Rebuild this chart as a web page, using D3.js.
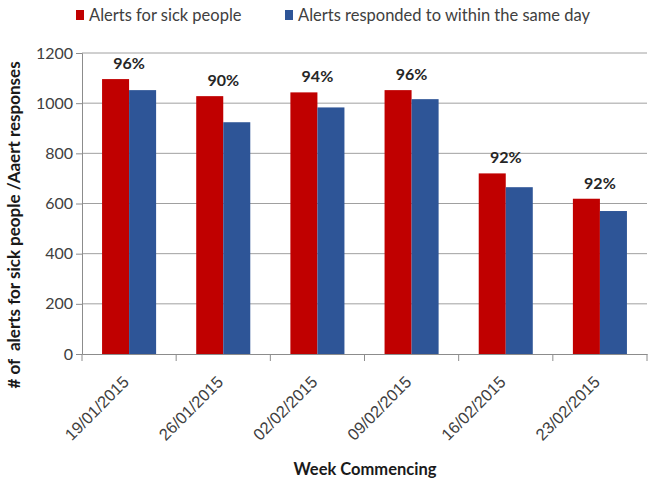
<!DOCTYPE html>
<html>
<head>
<meta charset="utf-8">
<script src="https://cdn.jsdelivr.net/npm/d3@7"></script>
<style>
  body { margin: 0; background: #fff; }
  svg { display: block; font-family: Lato, "Open Sans", sans-serif; }
</style>
</head>
<body>
<svg id="chart" width="649" height="482"></svg>
<script>
var weeks = ["19/01/2015", "26/01/2015", "02/02/2015", "09/02/2015", "16/02/2015", "23/02/2015"];
var alerts = [1096, 1028, 1043, 1052, 720, 619];
var responded = [1052, 924, 983, 1016, 665, 570];
var pctLabels = ["96%", "90%", "94%", "96%", "92%", "92%"];
var seriesNames = ["Alerts for sick people", "Alerts responded to within the same day"];
var yTicks = [0, 200, 400, 600, 800, 1000, 1200];

var colors = ["#C00000", "#2E5597"];

var svg = d3.select("#chart"),
    margin = {top: 53, right: 2, bottom: 128, left: 82},
    width = +svg.attr("width") - margin.left - margin.right,
    height = +svg.attr("height") - margin.top - margin.bottom,
    g = svg.append("g").attr("transform", "translate(" + margin.left + "," + margin.top + ")");

var x = d3.scaleBand()
    .domain(weeks)
    .range([0, width]);

// bars of a group fill ~57% of the band, centred
var x1 = d3.scaleBand()
    .domain([0, 1])
    .range([x.bandwidth() * 0.213, x.bandwidth() * 0.787]);

var y = d3.scaleLinear()
    .domain([0, 1200])
    .range([height, 0]);

// gridlines
g.append("g")
  .attr("class", "grid")
  .selectAll("line")
  .data(yTicks.filter(function(d) { return d > 0; }))
  .enter().append("line")
    .attr("x1", 0)
    .attr("x2", width)
    .attr("y1", function(d) { return y(d); })
    .attr("y2", function(d) { return y(d); })
    .attr("stroke", "#a0a0a0")
    .attr("stroke-width", 1);

// bars
var data = weeks.map(function(w, i) { return {week: w, vals: [alerts[i], responded[i]], pct: pctLabels[i]}; });

var groups = g.selectAll(".grp")
  .data(data)
  .enter().append("g")
    .attr("class", "grp")
    .attr("transform", function(d) { return "translate(" + x(d.week) + ",0)"; });

groups.selectAll("rect")
  .data(function(d) { return d.vals.map(function(v, k) { return {k: k, v: v}; }); })
  .enter().append("rect")
    .attr("x", function(d) { return x1(d.k); })
    .attr("width", x1.bandwidth())
    .attr("y", function(d) { return y(d.v); })
    .attr("height", function(d) { return height - y(d.v); })
    .attr("fill", function(d) { return colors[d.k]; });

// percentage labels
groups.append("text")
  .attr("x", x.bandwidth() / 2)
  .attr("y", function(d) { return y(d.vals[0]) - 10; })
  .attr("text-anchor", "middle")
  .attr("font-size", "16px")
  .attr("font-weight", "bold")
  .attr("fill", "#262626")
  .text(function(d) { return d.pct; });

// y axis
var yAxis = g.append("g")
  .call(d3.axisLeft(y).tickValues(yTicks).tickFormat(d3.format("d")).tickSize(6).tickPadding(3));
yAxis.select(".domain").attr("stroke", "#8c8c8c");
yAxis.selectAll(".tick line").attr("stroke", "#8c8c8c");
yAxis.selectAll(".tick text")
  .attr("font-size", "16px")
  .attr("font-family", "Lato, sans-serif")
  .attr("fill", "#404040");

// x axis
var xAxis = g.append("g")
  .attr("transform", "translate(0," + height + ")")
  .call(d3.axisBottom(x).tickSize(0).tickFormat(""));
xAxis.select(".domain").attr("stroke", "#8c8c8c");
xAxis.selectAll(".sep")
  .data(weeks.concat(["end"]))
  .enter().append("line")
    .attr("x1", function(d, i) { return i * x.bandwidth(); })
    .attr("x2", function(d, i) { return i * x.bandwidth(); })
    .attr("y1", 0)
    .attr("y2", 7)
    .attr("stroke", "#8c8c8c");

xAxis.selectAll(".lbl")
  .data(weeks)
  .enter().append("text")
    .attr("text-anchor", "end")
    .attr("font-size", "16.5px")
    .attr("fill", "#404040")
    .attr("transform", function(d) {
      return "translate(" + (x(d) + x.bandwidth() / 2 + 1) + ",29) rotate(-45)";
    })
    .text(function(d) { return d; });

// axis titles
svg.append("text")
  .attr("x", 365)
  .attr("y", 475)
  .attr("text-anchor", "middle")
  .attr("font-size", "16.5px")
  .attr("font-weight", "bold")
  .attr("fill", "#1a1a1a")
  .text("Week Commencing");

svg.append("text")
  .attr("transform", "translate(20,225) rotate(-90)")
  .attr("text-anchor", "middle")
  .attr("font-size", "17px")
  .attr("font-weight", "bold")
  .attr("fill", "#1a1a1a")
  .attr("xml:space", "preserve")
  .text("# of  alerts for sick people /Aaert responses");

// legend
var legend = svg.append("g").attr("transform", "translate(76,6)");
var legX = [0, 209];
seriesNames.forEach(function(name, i) {
  var item = legend.append("g").attr("transform", "translate(" + legX[i] + ",0)");
  item.append("rect")
    .attr("width", 8)
    .attr("height", 10)
    .attr("y", 4)
    .attr("fill", colors[i]);
  item.append("text")
    .attr("x", 13)
    .attr("y", 15)
    .attr("font-size", "16.5px")
    .attr("fill", "#404040")
    .text(name);
});
</script>
</body>
</html>
